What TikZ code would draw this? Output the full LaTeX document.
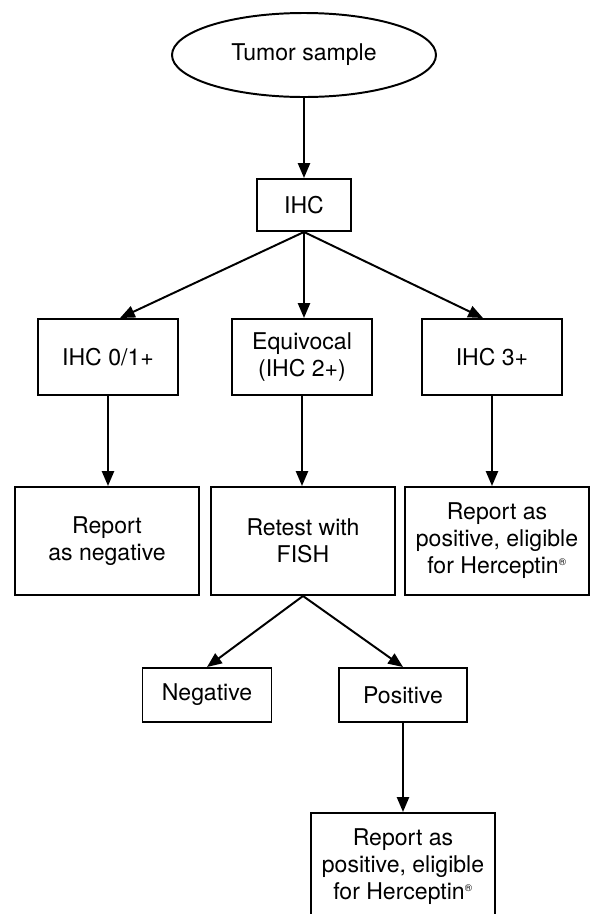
\documentclass[tikz,border=0pt]{standalone}
\usepackage{fontspec}
\setmainfont{TeX Gyre Heros}
\usetikzlibrary{shapes.geometric,arrows.meta}

\tikzset{
  box/.style={rectangle, draw, line width=1.4pt, align=center, inner sep=2pt},
  flow/.style={-{Triangle[length=0.37cm,width=0.3cm]}, line width=1.4pt}
}
\newcommand{\regmark}{\textsuperscript{\fontsize{7}{7}\selectfont ®}}

\begin{document}
\begin{tikzpicture}[font=\fontsize{16.4}{19.2}\selectfont]
        \useasboundingbox (0,0) rectangle (14.8,-22.85);

        \node[ellipse, draw, line width=1.4pt, minimum width = 6.6cm, minimum height = 2.1cm]
             (sample) at (7.6,-1.375) {Tumor sample};
        \node[box, minimum width = 2.35cm, minimum height = 1.3cm] (ihc)
             at (7.6,-5.125) {IHC};

             % first results
             \node[box, minimum width = 3.5cm, minimum height = 1.9cm] (ihc-low)
                  at (2.7,-8.925) {IHC 0/1+};
             \node[box, minimum width = 3.5cm, minimum height = 1.9cm] (equivocal)
                  at (7.55,-8.925) {Equivocal\\(IHC 2+)};
             \node[box, minimum width = 3.5cm, minimum height = 1.9cm] (ihc-high)
                  at (12.3,-8.925) {IHC 3+};

                  \node[box, minimum width = 4.6cm, minimum height = 2.7cm] (report-neg)
                  at (2.675,-13.525) {Report\\as negative};
                  \node[box, minimum width = 4.6cm, minimum height = 2.7cm] (retest)
                  at (7.575,-13.525) {Retest with\\FISH};
                  \node[box, minimum width = 4.6cm, minimum height = 2.7cm] (report-pos)
                  at (12.425,-13.525) {Report as\\positive, eligible\\for Herceptin\regmark};

                  % FISH results
                  \node[box, minimum width = 3.225cm, minimum height = 1.35cm] (fish-neg)
                  at (5.175,-17.375) {Negative};
                  \node[box, minimum width = 3.2cm, minimum height = 1.35cm] (fish-pos)
                  at (10.075,-17.375) {Positive};

                  \node[box, minimum width = 4.6cm, minimum height = 2.7cm] (report-fish)
                  at (10.075,-21.675) {Report as\\positive, eligible\\for Herceptin\regmark};

                  \draw[flow] (sample) to (ihc);
                  \draw[flow] (ihc.south) to ([xshift=0.3cm]ihc-low.north);
                  \draw[flow] (ihc.south) to (ihc.south |- equivocal.north);
                  \draw[flow] (ihc.south) to ([xshift=-0.225cm]ihc-high.north);
                  \draw[flow] (ihc-low) to (ihc-low.south |- report-neg.north);
                  \draw[flow] (equivocal) to (equivocal.south |- retest.north);
                  \draw[flow] (ihc-high) to (ihc-high.south |- report-pos.north);
                  \draw[flow] (retest.south) to (fish-neg.north);
                  \draw[flow] (retest.south) to (fish-pos.north);
                  \draw[flow] (fish-pos) to (report-fish);
      \end{tikzpicture}
\end{document}
